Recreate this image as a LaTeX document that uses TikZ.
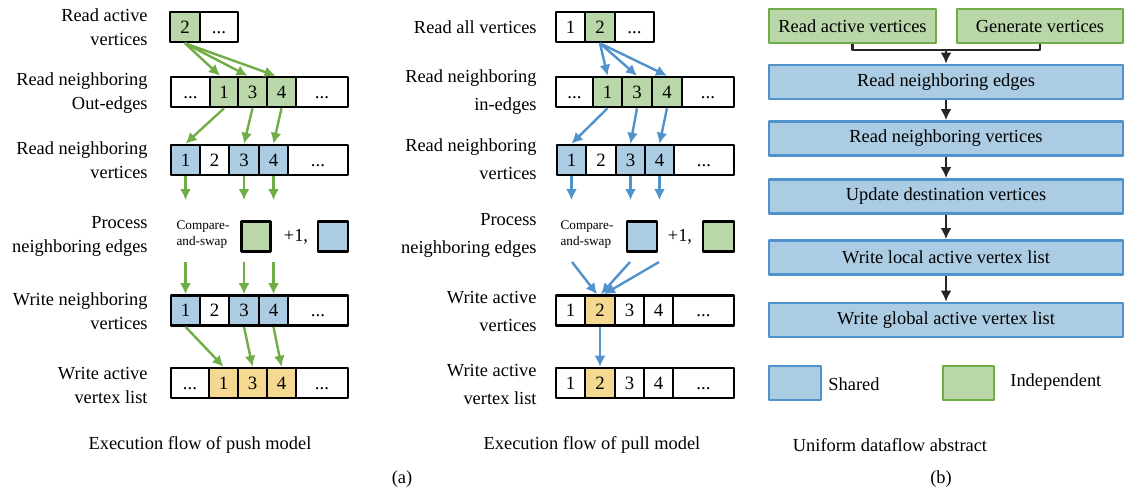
\documentclass[tikz,border=0pt]{standalone}
\usepackage{fontspec}
\setmainfont{Liberation Serif}
\usepackage{tikz}
\usetikzlibrary{arrows.meta, positioning}

\definecolor{gfill}{RGB}{185,215,168}
\definecolor{gline}{RGB}{112,173,71}
\definecolor{bfill}{RGB}{172,204,228}
\definecolor{bline}{RGB}{80,146,204}
\definecolor{yfill}{RGB}{245,216,146}

\tikzset{
    cell/.style={draw, line width=1.3pt, minimum height=15pt, inner sep=0pt,
        text height=6.3pt, text depth=0.2pt,
        font=\fontsize{9.4}{11}\selectfont},
    labp/.style={anchor=east, align=right, inner sep=0pt,
        font=\fontsize{9.2}{12}\selectfont},
    labq/.style={anchor=east, align=right, inner sep=0pt,
        font=\fontsize{9.2}{14}\selectfont},
    cas/.style={align=left, inner sep=0pt, font=\fontsize{6.6}{8}\selectfont},
    txt/.style={inner sep=0pt, font=\fontsize{9.2}{11}\selectfont},
    garr/.style={draw=gline, line width=1.2pt, -{Latex[length=5.5pt,width=5.5pt]}},
    barr/.style={draw=bline, line width=1.2pt, -{Latex[length=5.5pt,width=5.5pt]}},
    karr/.style={draw=black!85, line width=1.2pt, -{Latex[length=5.5pt,width=5.5pt]}},
    flowb/.style={draw=bline, fill=bfill, line width=1.4pt, minimum width=177pt,
        minimum height=17pt, inner sep=0pt, font=\fontsize{9.2}{11}\selectfont},
    flowg/.style={draw=gline, fill=gfill, line width=1.4pt,
        minimum height=17pt, inner sep=0pt, font=\fontsize{9.2}{11}\selectfont}
}

\begin{document}
\begin{tikzpicture}[
        x=0.5pt,
        y=-0.5pt,
        line join=round
    ]

        \useasboundingbox (0,0) rectangle (1126,495);

        % =================================
        % PUSH MODEL
        % =================================

        \node[labp] (pL1) at (148,27) {Read active\\vertices};
        \node[labp] (pL2) at (148,93) {Read neighboring\\Out-edges};
        \node[labp] (pL3) at (148,160) {Read neighboring\\vertices};
        \node[labp] (pL4) at (148,236) {Process\\neighboring edges};
        \node[labp] (pL5) at (148,311) {Write neighboring\\vertices};
        \node[labp] (pL6) at (148,385) {Write active\\vertex list};

        % active vertices
        \node[cell, fill=gfill, minimum width=15pt] (pA1) at (185,27) {2};
        \node[cell, minimum width=19pt] (pA2) at (219,27) {...};

        % out-edges
        \node[cell, minimum width=19.5pt] (pB1) at (190.5,92) {...};
        \node[cell, fill=gfill, minimum width=14pt] (pB2) at (224,92) {1};
        \node[cell, fill=gfill, minimum width=14.5pt] (pB3) at (252.5,92) {3};
        \node[cell, fill=gfill, minimum width=14.5pt] (pB4) at (281.5,92) {4};
        \node[cell, minimum width=26pt] (pB5) at (322,92) {...};

        % neighboring vertices (read)
        \node[cell, fill=bfill, minimum width=14.5pt] (pC1) at (185.5,160) {1};
        \node[cell, minimum width=14.5pt] (pC2) at (214.5,160) {2};
        \node[cell, fill=bfill, minimum width=15pt] (pC3) at (244,160) {3};
        \node[cell, fill=bfill, minimum width=14.5pt] (pC4) at (273.5,160) {4};
        \node[cell, minimum width=30pt] (pC5) at (318,160) {...};

        % process
        \node[cas] (pCas) at (203,235) {Compare-\\and-swap};
        \node[cell, fill=gfill, minimum width=14.5pt] (pSq1) at (256,236.5) {};
        \node[txt] (pPlus) at (296,237) {+1,};
        \node[cell, fill=bfill, minimum width=15pt] (pSq2) at (333,236.5) {};

        % neighboring vertices (write)
        \node[cell, fill=bfill, minimum width=14.5pt] (pE1) at (185.5,310.5) {1};
        \node[cell, minimum width=14.5pt] (pE2) at (214.5,310.5) {2};
        \node[cell, fill=bfill, minimum width=15pt] (pE3) at (244,310.5) {3};
        \node[cell, fill=bfill, minimum width=14.5pt] (pE4) at (273.5,310.5) {4};
        \node[cell, minimum width=30pt] (pE5) at (318,310.5) {...};

        % active vertex list
        \node[cell, minimum width=19pt] (pF1) at (190,383) {...};
        \node[cell, fill=yfill, minimum width=14.5pt] (pF2) at (223.5,383) {1};
        \node[cell, fill=yfill, minimum width=14.5pt] (pF3) at (252.5,383) {3};
        \node[cell, fill=yfill, minimum width=14.5pt] (pF4) at (281.5,383) {4};
        \node[cell, minimum width=26pt] (pF5) at (322,383) {...};

        \coordinate (pD1) at (185.5,200);
        \coordinate (pD3) at (244,200);
        \coordinate (pD4) at (273.5,200);
        \coordinate (pU1) at (185.5,262);
        \coordinate (pU3) at (244,262);
        \coordinate (pU4) at (273.5,262);

        % arrows
        \draw[garr] (pA1.south) -- ([xshift=-2pt]pB2.north);
        \draw[garr] (pA1.south) -- ([xshift=-2.5pt]pB3.north);
        \draw[garr] (pA1.south) -- ([xshift=-3pt]pB4.north);
        \draw[garr] (pB2.south) -- (pC1.north);
        \draw[garr] (pB3.south) -- (pC3.north);
        \draw[garr] (pB4.south) -- (pC4.north);
        \draw[garr] (pC1.south) -- (pD1);
        \draw[garr] (pC3.south) -- (pD3);
        \draw[garr] (pC4.south) -- (pD4);
        \draw[garr] (pU1) -- (pE1.north);
        \draw[garr] (pU3) -- (pE3.north);
        \draw[garr] (pU4) -- (pE4.north);
        \draw[garr] (pE1.south) -- (pF2.north);
        \draw[garr] (pE3.south) -- (pF3.north);
        \draw[garr] (pE4.south) -- (pF4.north);

        % =================================
        % PULL MODEL
        % =================================

        \node[labq] (qL1) at (537,27) {Read all vertices};
        \node[labq] (qL2) at (537,92) {Read neighboring\\in-edges};
        \node[labq] (qL3) at (537,159) {Read neighboring\\vertices};
        \node[labq] (qL4) at (537,235) {Process\\neighboring edges};
        \node[labq] (qL5) at (537,311) {Write active\\vertices};
        \node[labq] (qL6) at (537,384) {Write active\\vertex list};

        % all vertices
        \node[cell, minimum width=14.5pt] (qA1) at (570.5,27) {1};
        \node[cell, fill=gfill, minimum width=15pt] (qA2) at (600,27) {2};
        \node[cell, minimum width=19.5pt] (qA3) at (634.5,27) {...};

        % in-edges
        \node[cell, minimum width=18.5pt] (qB1) at (574.5,92) {...};
        \node[cell, fill=gfill, minimum width=14.5pt] (qB2) at (607.5,92) {1};
        \node[cell, fill=gfill, minimum width=15pt] (qB3) at (637,92) {3};
        \node[cell, fill=gfill, minimum width=15pt] (qB4) at (667,92) {4};
        \node[cell, minimum width=26pt] (qB5) at (708,92) {...};

        % neighboring vertices
        \node[cell, fill=bfill, minimum width=14.5pt] (qC1) at (571.5,160) {1};
        \node[cell, minimum width=15pt] (qC2) at (601,160) {2};
        \node[cell, fill=bfill, minimum width=14.5pt] (qC3) at (630.5,160) {3};
        \node[cell, fill=bfill, minimum width=14.5pt] (qC4) at (659.5,160) {4};
        \node[cell, minimum width=30pt] (qC5) at (704,160) {...};

        % process
        \node[cas] (qCas) at (587,235) {Compare-\\and-swap};
        \node[cell, fill=bfill, minimum width=15pt] (qSq1) at (642,236.5) {};
        \node[txt] (qPlus) at (680,237) {+1,};
        \node[cell, fill=gfill, minimum width=15.5pt] (qSq2) at (718.5,236.5) {};

        % active vertices
        \node[cell, minimum width=14.5pt] (qE1) at (570.5,310.5) {1};
        \node[cell, fill=yfill, minimum width=15pt] (qE2) at (600,310.5) {2};
        \node[cell, minimum width=14.5pt] (qE3) at (629.5,310.5) {3};
        \node[cell, minimum width=14.5pt] (qE4) at (658.5,310.5) {4};
        \node[cell, minimum width=30.5pt] (qE5) at (703.5,310.5) {...};

        % active vertex list
        \node[cell, minimum width=14.5pt] (qF1) at (570.5,383) {1};
        \node[cell, fill=yfill, minimum width=15pt] (qF2) at (600,383) {2};
        \node[cell, minimum width=14.5pt] (qF3) at (629.5,383) {3};
        \node[cell, minimum width=14.5pt] (qF4) at (658.5,383) {4};
        \node[cell, minimum width=30.5pt] (qF5) at (703.5,383) {...};

        \coordinate (qD1) at (571.5,200);
        \coordinate (qD3) at (630.5,200);
        \coordinate (qD4) at (659.5,200);
        \coordinate (qU1) at (572,262);
        \coordinate (qU3) at (630,262);
        \coordinate (qU4) at (659,262);

        % arrows
        \draw[barr] (qA2.south) -- (qB2.north);
        \draw[barr] (qA2.south) -- (qB3.north);
        \draw[barr] (qA2.south) -- (qB4.north);
        \draw[barr] (qB2.south) -- (qC1.north);
        \draw[barr] (qB3.south) -- (qC3.north);
        \draw[barr] (qB4.south) -- (qC4.north);
        \draw[barr] (qC1.south) -- (qD1);
        \draw[barr] (qC3.south) -- (qD3);
        \draw[barr] (qC4.south) -- (qD4);
        \draw[barr] (qU1) -- ([xshift=-1.5pt]qE2.north);
        \draw[barr] (qU3) -- ([xshift=0.5pt]qE2.north);
        \draw[barr] (qU4) -- ([xshift=2pt]qE2.north);
        \draw[barr] (qE2.south) -- (qF2.north);

        % =================================
        % UNIFORM DATAFLOW
        % =================================

        \node[flowg, minimum width=83.5pt] (rA) at (852.5,26) {Read active vertices};
        \node[flowg, minimum width=83pt] (rB) at (1040,26) {Generate vertices};
        \node[flowb] (rC) at (946,82) {Read neighboring edges};
        \node[flowb] (rD) at (946,138.5) {Read neighboring vertices};
        \node[flowb] (rE) at (946,196.5) {Update destination vertices};
        \node[flowb] (rF) at (946,257.5) {Write local active vertex list};
        \node[flowb] (rG) at (946,320) {Write global active vertex list};

        \coordinate (rJ) at (946,50);
        \draw[draw=black!85, line width=1.2pt] (rA.south) |- (rJ) -| (rB.south);
        \draw[karr] (rJ) -- (rC.north);
        \draw[karr] (rC.south) -- (rD.north);
        \draw[karr] (rD.south) -- (rE.north);
        \draw[karr] (rE.south) -- (rF.north);
        \draw[karr] (rF.south) -- (rG.north);

        % legend
        \node[flowb, minimum width=26pt] (rLs) at (795,383) {};
        \node[txt, anchor=west] (rTs) at (828,384) {Shared};
        \node[flowg, minimum width=25.5pt] (rLi) at (968.5,383) {};
        \node[txt, anchor=west] (rTi) at (1010,382) {Independent};

        % =================================
        % CAPTIONS
        % =================================

        \node[txt] (cP) at (200,445) {Execution flow of push model};
        \node[txt] (cQ) at (592,445) {Execution flow of pull model};
        \node[txt] (cR) at (890,445) {Uniform dataflow abstract};
        \node[txt] (cA) at (402,479) {(a)};
        \node[txt] (cB) at (941,479) {(b)};

    \end{tikzpicture}
\end{document}
